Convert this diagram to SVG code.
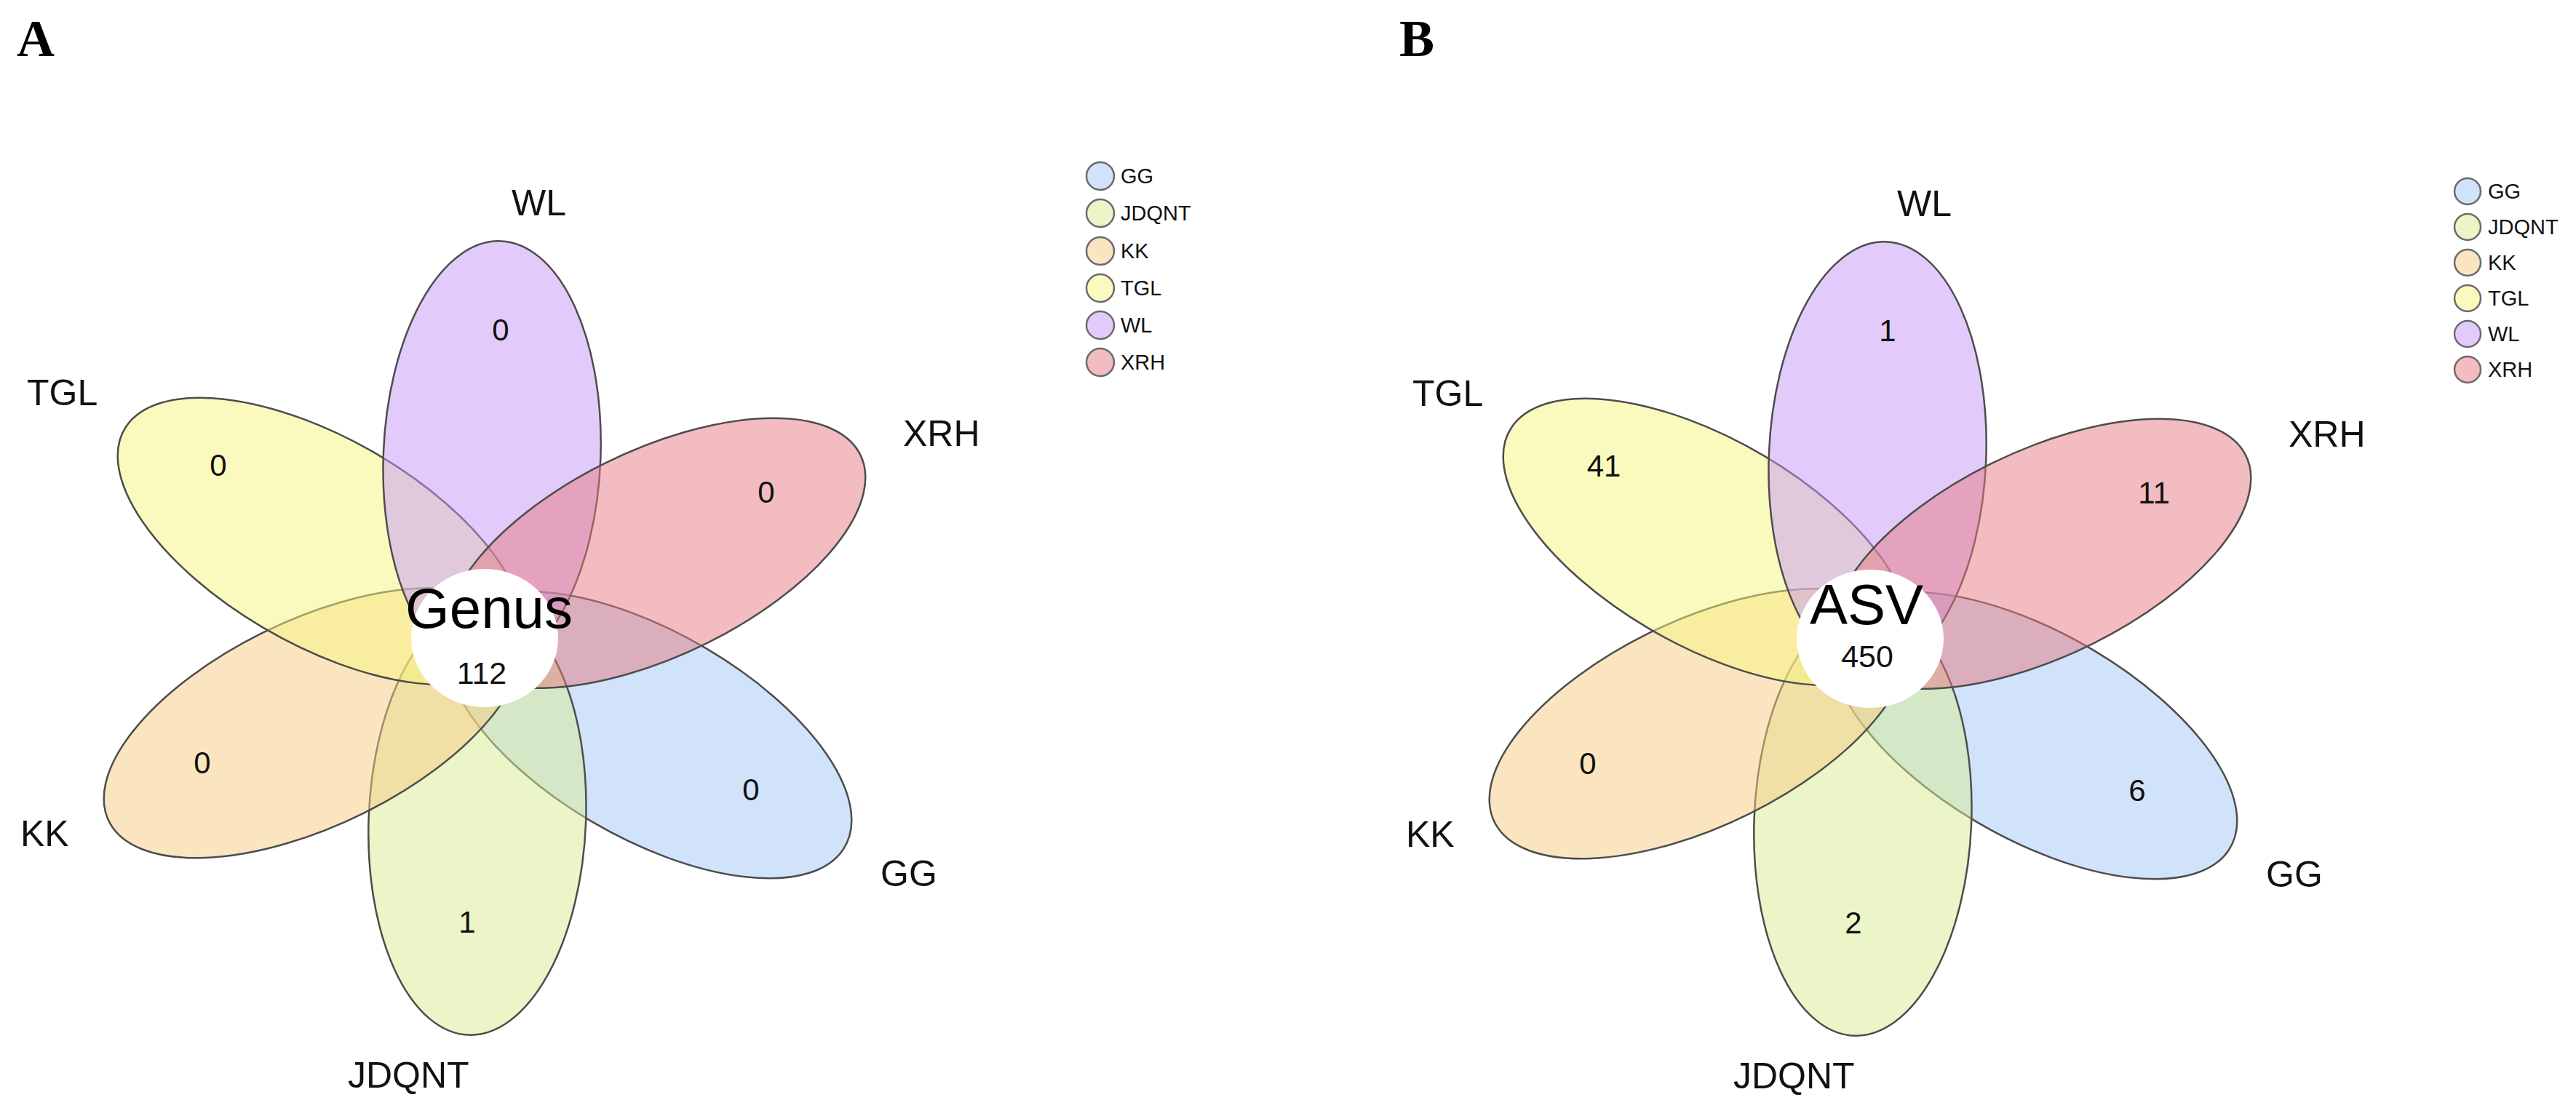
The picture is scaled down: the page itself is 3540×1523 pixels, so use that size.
<svg xmlns="http://www.w3.org/2000/svg" width="3540" height="1523" viewBox="0 0 3540 1523">
<style>
.pet{stroke:#4d4d4d;stroke-width:2.5;fill-opacity:0.5;vector-effect:non-scaling-stroke}
.leg{stroke:#6b6b6b;stroke-width:2.5;fill-opacity:0.5}
.gg{fill:#A3C7F7}.jd{fill:#D7EB91}.kk{fill:#F5CB81}.tg{fill:#F7F57D}.wl{fill:#C597F5}.xr{fill:#E57981}
.lab{font-family:"Liberation Sans",Arial,sans-serif;font-size:50px;fill:#111}
.num{font-family:"Liberation Sans",Arial,sans-serif;font-size:42px;fill:#111;text-anchor:middle}
.core{font-family:"Liberation Sans",Arial,sans-serif;font-size:78px;fill:#000;text-anchor:middle}
.cnum{font-family:"Liberation Sans",Arial,sans-serif;font-size:43px;fill:#111;text-anchor:middle}
.lt{font-family:"Liberation Sans",Arial,sans-serif;font-size:29px;fill:#111}
.panel{font-family:"Liberation Serif","Times New Roman",serif;font-size:72px;font-weight:bold;fill:#000}
</style>
<rect width="3540" height="1523" fill="#fff"/>
<text class="panel" x="23" y="77">A</text>
<text class="panel" x="1923" y="77">B</text>

<!-- Panel A -->
<g id="A-flower">
<g id="A-GG"><ellipse class="pet gg" cx="250" cy="0" rx="296" ry="140" transform="translate(666,877) scale(1.066,1) rotate(32.17)"/></g>
<g id="A-JDQNT"><ellipse class="pet jd" cx="250" cy="0" rx="296" ry="140" transform="translate(666,877) scale(1.066,1) rotate(92.17)"/></g>
<g id="A-KK"><ellipse class="pet kk" cx="250" cy="0" rx="296" ry="140" transform="translate(666,877) scale(1.066,1) rotate(152.17)"/></g>
<g id="A-TGL"><ellipse class="pet tg" cx="250" cy="0" rx="296" ry="140" transform="translate(666,877) scale(1.066,1) rotate(212.17)"/></g>
<g id="A-WL"><ellipse class="pet wl" cx="250" cy="0" rx="296" ry="140" transform="translate(666,877) scale(1.066,1) rotate(272.17)"/></g>
<g id="A-XRH"><ellipse class="pet xr" cx="250" cy="0" rx="296" ry="140" transform="translate(666,877) scale(1.066,1) rotate(332.17)"/></g>
<g id="A-core"><ellipse cx="666" cy="877" rx="101" ry="95" fill="#fff"/>
<text class="core" x="672" y="863">Genus</text><text class="cnum" x="662" y="940">112</text></g>
</g>
<g id="A-labels">
<text class="lab" x="703" y="296">WL</text>
<text class="lab" x="1241" y="613">XRH</text>
<text class="lab" x="1210" y="1218">GG</text>
<text class="lab" x="478" y="1495">JDQNT</text>
<text class="lab" x="28" y="1163">KK</text>
<text class="lab" x="37" y="557">TGL</text>
<text class="num" x="688" y="468">0</text>
<text class="num" x="1053" y="691">0</text>
<text class="num" x="1032" y="1100">0</text>
<text class="num" x="642" y="1282">1</text>
<text class="num" x="278" y="1063">0</text>
<text class="num" x="300" y="654">0</text>
</g>
<g id="A-legend">
<circle class="leg gg" cx="1512" cy="242" r="19"/><text class="lt" x="1540" y="252">GG</text>
<circle class="leg jd" cx="1512" cy="293" r="19"/><text class="lt" x="1540" y="303">JDQNT</text>
<circle class="leg kk" cx="1512" cy="345" r="19"/><text class="lt" x="1540" y="355">KK</text>
<circle class="leg tg" cx="1512" cy="396" r="19"/><text class="lt" x="1540" y="406">TGL</text>
<circle class="leg wl" cx="1512" cy="447" r="19"/><text class="lt" x="1540" y="457">WL</text>
<circle class="leg xr" cx="1512" cy="498" r="19"/><text class="lt" x="1540" y="508">XRH</text>
</g>

<!-- Panel B -->
<g id="B-flower">
<g id="B-GG"><ellipse class="pet gg" cx="250" cy="0" rx="296" ry="140" transform="translate(2570,878) scale(1.066,1) rotate(32.17)"/></g>
<g id="B-JDQNT"><ellipse class="pet jd" cx="250" cy="0" rx="296" ry="140" transform="translate(2570,878) scale(1.066,1) rotate(92.17)"/></g>
<g id="B-KK"><ellipse class="pet kk" cx="250" cy="0" rx="296" ry="140" transform="translate(2570,878) scale(1.066,1) rotate(152.17)"/></g>
<g id="B-TGL"><ellipse class="pet tg" cx="250" cy="0" rx="296" ry="140" transform="translate(2570,878) scale(1.066,1) rotate(212.17)"/></g>
<g id="B-WL"><ellipse class="pet wl" cx="250" cy="0" rx="296" ry="140" transform="translate(2570,878) scale(1.066,1) rotate(272.17)"/></g>
<g id="B-XRH"><ellipse class="pet xr" cx="250" cy="0" rx="296" ry="140" transform="translate(2570,878) scale(1.066,1) rotate(332.17)"/></g>
<g id="B-core"><ellipse cx="2570" cy="878" rx="101" ry="95" fill="#fff"/>
<text class="core" x="2565" y="858">ASV</text><text class="cnum" x="2566" y="917">450</text></g>
</g>
<g id="B-labels">
<text class="lab" x="2607" y="297">WL</text>
<text class="lab" x="3145" y="614">XRH</text>
<text class="lab" x="3114" y="1219">GG</text>
<text class="lab" x="2382" y="1496">JDQNT</text>
<text class="lab" x="1932" y="1164">KK</text>
<text class="lab" x="1941" y="558">TGL</text>
<text class="num" x="2594" y="469">1</text>
<text class="num" x="2960" y="692">11</text>
<text class="num" x="2937" y="1101">6</text>
<text class="num" x="2547" y="1283">2</text>
<text class="num" x="2182" y="1064">0</text>
<text class="num" x="2204" y="655">41</text>
</g>
<g id="B-legend">
<circle class="leg gg" cx="3391" cy="263" r="18"/><text class="lt" x="3419" y="273">GG</text>
<circle class="leg jd" cx="3391" cy="312" r="18"/><text class="lt" x="3419" y="322">JDQNT</text>
<circle class="leg kk" cx="3391" cy="361" r="18"/><text class="lt" x="3419" y="371">KK</text>
<circle class="leg tg" cx="3391" cy="410" r="18"/><text class="lt" x="3419" y="420">TGL</text>
<circle class="leg wl" cx="3391" cy="459" r="18"/><text class="lt" x="3419" y="469">WL</text>
<circle class="leg xr" cx="3391" cy="508" r="18"/><text class="lt" x="3419" y="518">XRH</text>
</g>
</svg>
